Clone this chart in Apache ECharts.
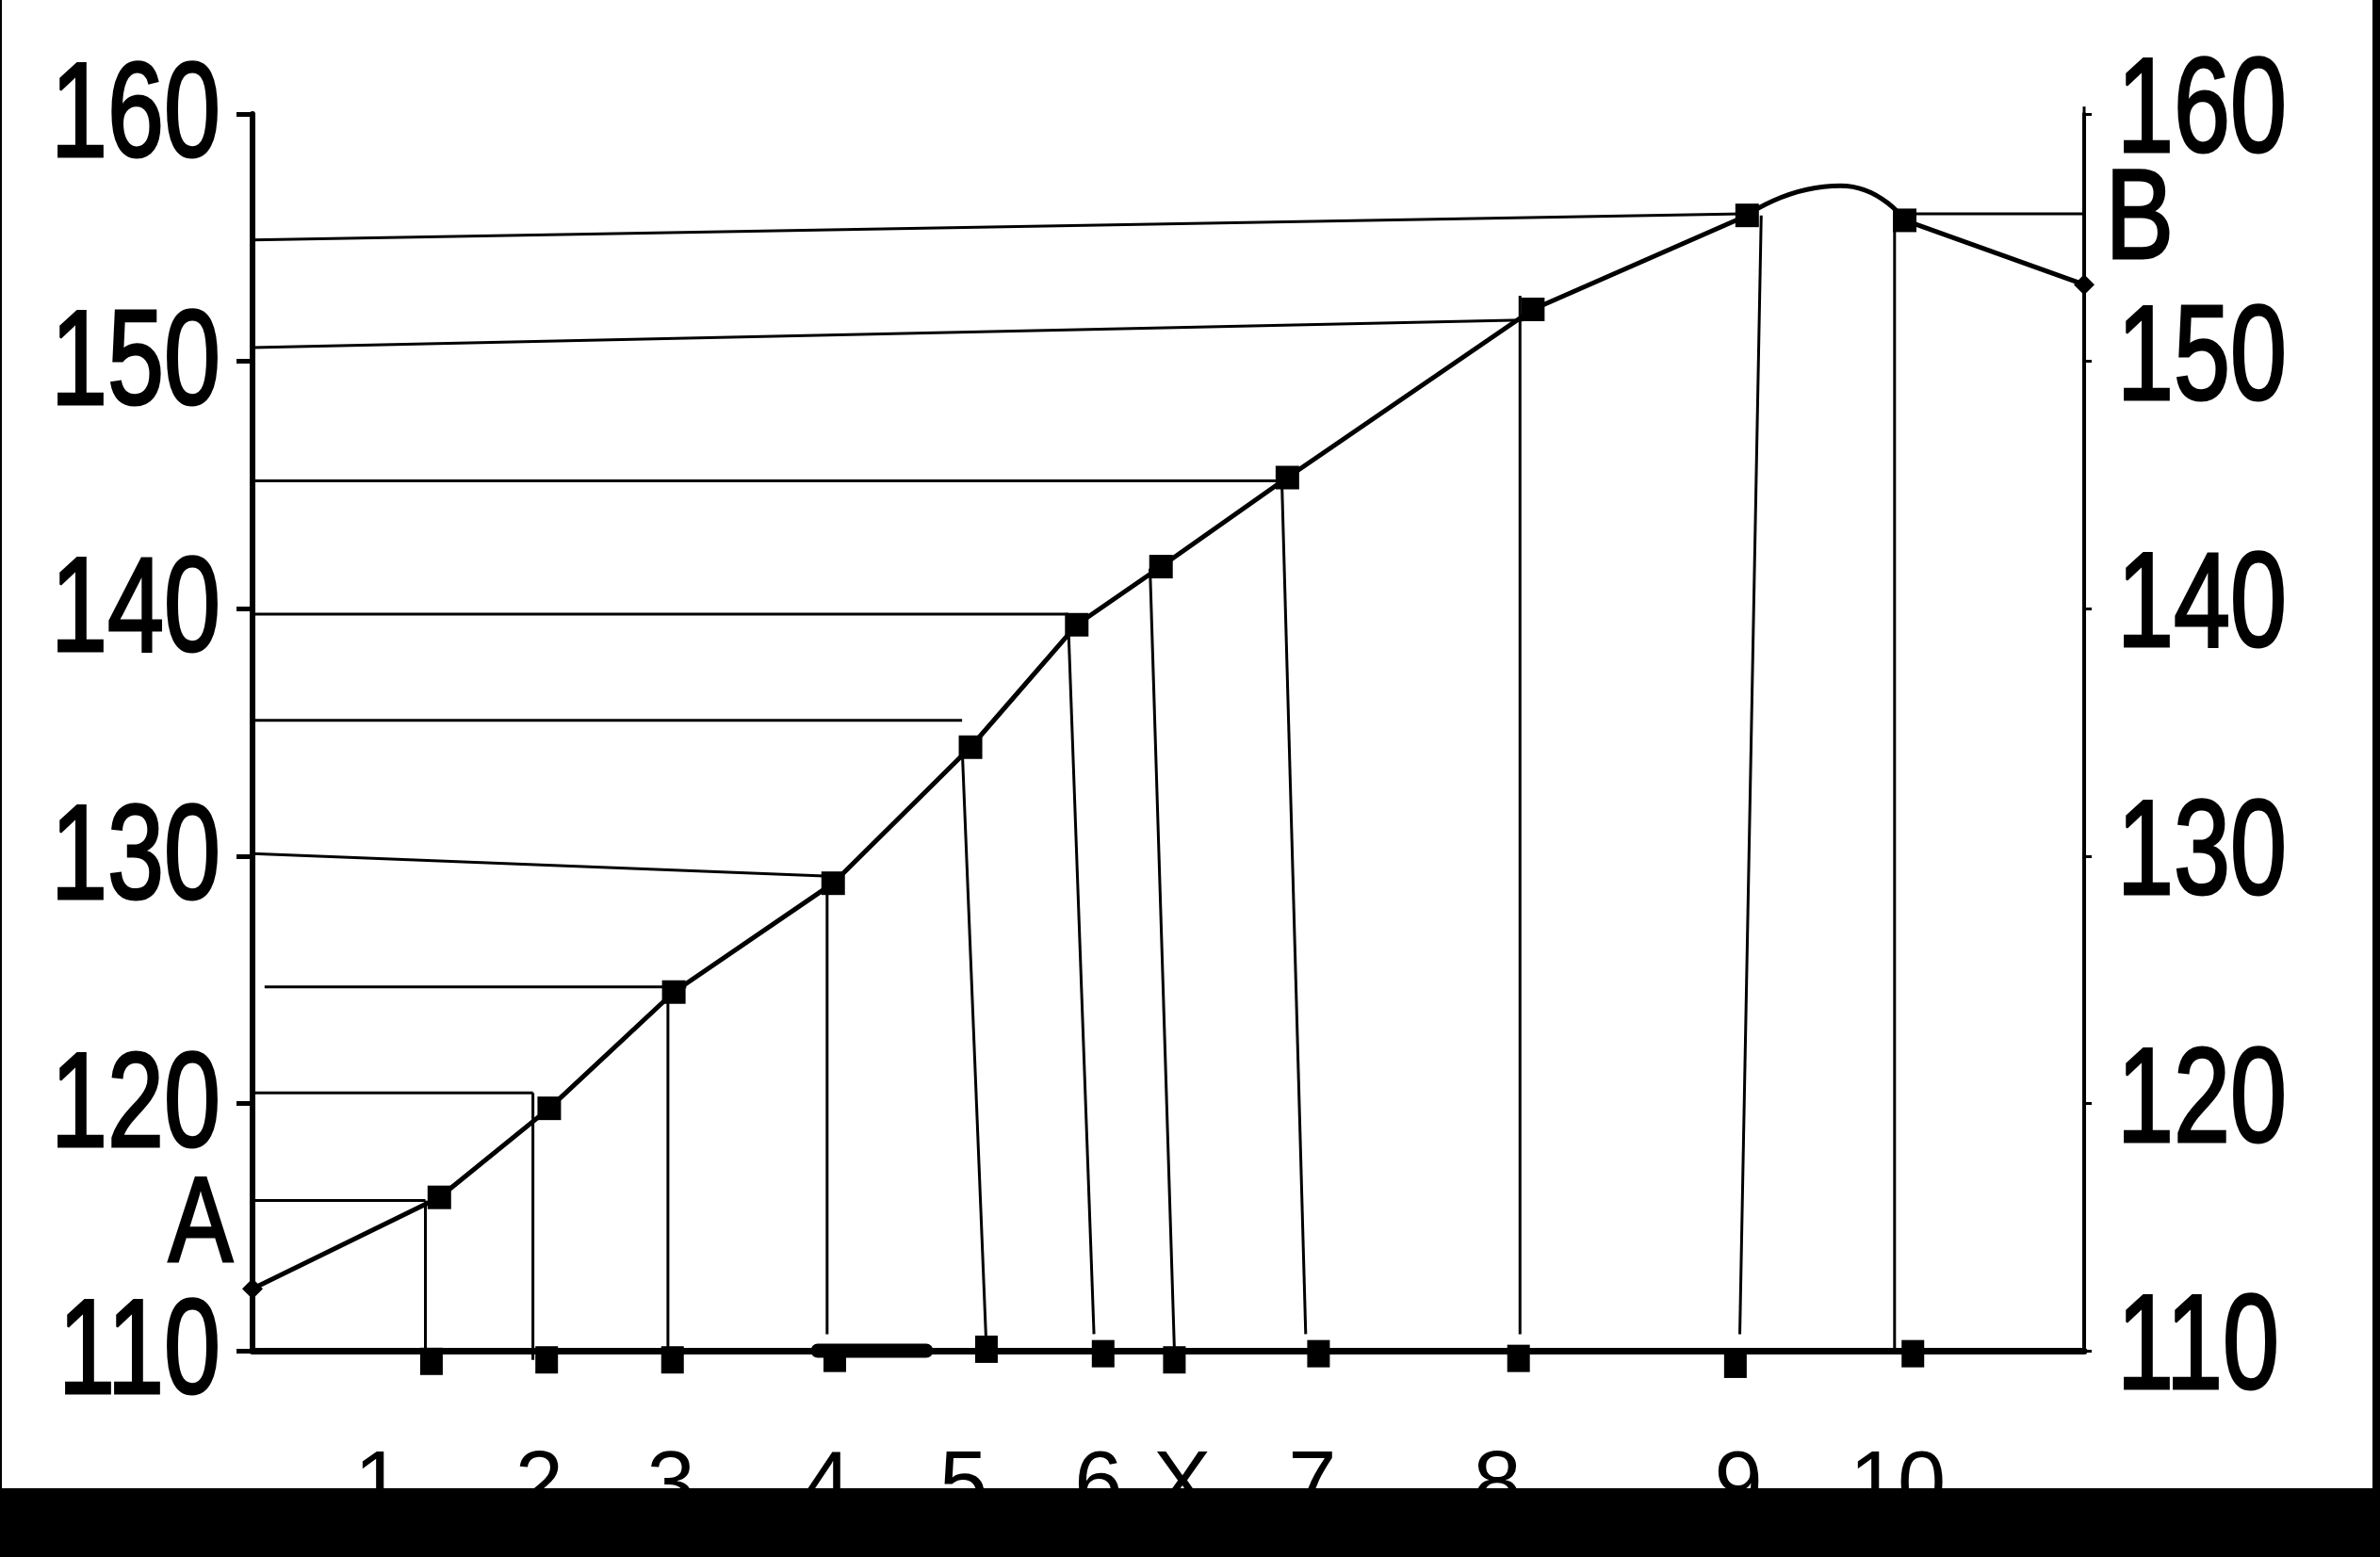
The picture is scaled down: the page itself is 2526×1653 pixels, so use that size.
<!DOCTYPE html>
<html>
<head>
<meta charset="utf-8">
<script src="https://cdn.jsdelivr.net/npm/echarts@6/dist/echarts.min.js"></script>
<style>
html,body{margin:0;padding:0;background:#fff;}
#chart{width:2526px;height:1653px;}
</style>
</head>
<body>
<div id="chart"></div>
<script>
// ---- data (x in relative units 0..100 between the two axes, y in axis units) ----
const yTicks = [110, 120, 130, 140, 150, 160];

// main polyline A -> 9
const curveX = [0, 10.2, 16.2, 23.0, 31.7, 39.2, 45.0, 49.6, 56.5, 69.9, 81.6];
const curveY = [112.5, 116.2, 119.8, 124.5, 128.9, 134.4, 139.35, 141.7, 145.3, 152.1, 155.9];
// rounded hump 9 -> 10
const humpX = [81.6, 86.7, 90.2];
const humpY = [155.9, 157.1, 155.7];
// 10 -> B
const tailX = [90.2, 100];
const tailY = [155.7, 153.1];

// square markers on the curve (1..6, X, 7..10)
const curveMarkX = [10.2, 16.2, 23.0, 31.7, 39.2, 45.0, 49.6, 56.5, 69.9, 81.6, 90.2];
const curveMarkY = [116.2, 119.8, 124.5, 128.9, 134.4, 139.35, 141.7, 145.3, 152.1, 155.9, 155.7];

// square markers along the baseline
const baseMarkX = [9.77, 16.06, 22.93, 31.79, 40.07, 46.44, 50.33, 58.2, 69.12, 80.96, 90.65];
const baseMarkY = [109.57, 109.63, 109.63, 109.69, 110.06, 109.88, 109.63, 109.88, 109.69, 109.45, 109.88];

// end points A and B
const endX = [0, 100];
const endY = [112.5, 153.1];

// horizontal guide lines [x1, y1, x2, y2]
const hLines = [
  [-0.3, 116.07, 9.44, 116.07],
  [0, 120.42, 15.31, 120.42],
  [0.66, 124.71, 23.68, 124.71],
  [0, 130.10, 31.54, 129.18],
  [-0.58, 135.49, 38.74, 135.49],
  [0, 139.78, 44.54, 139.78],
  [-0.17, 145.17, 56.13, 145.17],
  [0, 150.56, 69.37, 151.67],
  [0, 154.91, 81.37, 155.96],
  [90.15, 155.96, 100, 155.96]
];
// vertical guide lines [x1, y1, x2, y2]
const vLines = [
  [9.44, 116.07, 9.44, 109.63],
  [15.31, 120.42, 15.31, 109.63],
  [22.68, 124.46, 22.68, 109.63],
  [31.37, 128.93, 31.37, 110.67],
  [38.74, 134.45, 40.07, 110.06],
  [44.54, 139.35, 45.94, 110.67],
  [49.0, 141.62, 50.33, 110.06],
  [56.2, 145.1, 57.5, 110.67],
  [69.2, 152.65, 69.2, 110.67],
  [82.37, 155.9, 81.2, 110.67],
  [89.65, 155.7, 89.65, 110.06],
  [100, 160, 100, 160.3]
];
// short thick bar on the baseline right of "4"
const thickBar = [30.86, 110, 36.78, 110];

// bottom labels
const xLabels = ['1', '2', '3', '4', '5', '6', 'X', '7', '8', '9', '10'];
const xLabelPos = [6.87, 15.65, 22.85, 31.37, 38.82, 46.19, 50.75, 57.86, 67.96, 81.13, 89.82];
const xLabelY = 104.45;

// letter labels A and B
const letterText = ['A', 'B'];
const letterX = [-2.83, 103.03];
const letterY = [114.98, 155.6];

// ---- chart ----
const SANS = "'Liberation Sans', Arial, sans-serif";
const NARROW_SCALE = 0.76;
const zip = (xs, ys) => xs.map((x, i) => [x, ys[i]]);

const segSeries = hLines.concat(vLines).map(s => ({
  type: 'line', clip: false, silent: true, symbol: 'none', animation: false,
  lineStyle: { color: '#000', width: 3 },
  data: [[s[0], s[1]], [s[2], s[3]]], z: 3
}));

const sq = { color: '#000', opacity: 1 };

const option = {
  backgroundColor: '#fff',
  animation: false,
  grid: { left: 268, right: 314, top: 121, bottom: 219 },
  xAxis: {
    type: 'value', min: 0, max: 100,
    axisLine: { show: true, onZero: false, lineStyle: { color: '#000', width: 7 } },
    axisTick: { show: false }, axisLabel: { show: false }, splitLine: { show: false }
  },
  yAxis: [
    {
      type: 'value', position: 'left', min: 110, max: 160, interval: 10,
      axisLine: { show: true, lineStyle: { color: '#000', width: 6 } },
      axisTick: { show: true, inside: false, length: 17, lineStyle: { color: '#000', width: 5 } },
      axisLabel: { show: false },
      splitLine: { show: false }
    },
    {
      type: 'value', position: 'right', min: 110, max: 160, interval: 10,
      axisLine: { show: true, lineStyle: { color: '#000', width: 4 } },
      axisTick: { show: true, inside: false, length: 8, lineStyle: { color: '#000', width: 3 } },
      axisLabel: { show: false },
      splitLine: { show: false }
    }
  ],
  series: segSeries.concat([
    {
      type: 'line', clip: false, silent: true, symbol: 'none',
      lineStyle: { color: '#000', width: 15, cap: 'round' },
      data: [[thickBar[0], thickBar[1]], [thickBar[2], thickBar[3]]], z: 4
    },
    {
      type: 'line', clip: false, symbol: 'none',
      lineStyle: { color: '#000', width: 5 }, data: zip(curveX, curveY), z: 5
    },
    {
      type: 'line', clip: false, symbol: 'none', smooth: 0.6,
      lineStyle: { color: '#000', width: 5 }, data: zip(humpX, humpY), z: 5
    },
    {
      type: 'line', clip: false, symbol: 'none',
      lineStyle: { color: '#000', width: 5 }, data: zip(tailX, tailY), z: 5
    },
    {
      type: 'scatter', clip: false, symbol: 'rect', symbolSize: 25,
      itemStyle: sq, data: zip(curveMarkX, curveMarkY), z: 6
    },
    {
      type: 'scatter', clip: false, symbol: 'rect', symbolSize: [24, 29],
      itemStyle: sq, data: zip(baseMarkX, baseMarkY), z: 6
    },
    {
      type: 'scatter', clip: false, symbol: 'diamond', symbolSize: 22,
      itemStyle: sq, data: zip(endX, endY), z: 6
    }
  ])
};

const chart = echarts.init(document.getElementById('chart'), null, { renderer: 'canvas' });
chart.setOption(option);

// ---- texts placed through the chart's own scales ----
const px = (x, y) => chart.convertToPixel({ gridIndex: 0 }, [x, y]);
const texts = [];
const leftAxisX = px(0, 110)[0];
const rightAxisX = px(100, 110)[0];
const bigStyle = { fill: '#000', stroke: '#000', lineWidth: 3, fontFamily: SANS, verticalAlign: 'middle' };
yTicks.forEach(t => {
  const y = px(0, t)[1];
  texts.push({ type: 'text', x: leftAxisX - 34, y: y + 6, scaleX: NARROW_SCALE, z: 10,
    style: Object.assign({ text: String(t), fontSize: 142, align: 'right' }, bigStyle) });
  texts.push({ type: 'text', x: rightAxisX + 35, y: y + 1, scaleX: NARROW_SCALE, z: 10,
    style: Object.assign({ text: String(t), fontSize: 142, align: 'left' }, bigStyle) });
});
letterText.forEach((t, i) => {
  const p = px(letterX[i], letterY[i]);
  texts.push({ type: 'text', x: p[0], y: p[1], scaleX: 0.8, z: 10,
    style: Object.assign({ text: t, fontSize: i === 0 ? 128 : 136, align: 'center' }, bigStyle) });
});
xLabels.forEach((t, i) => {
  const p = px(xLabelPos[i], xLabelY);
  texts.push({ type: 'text', x: p[0], y: p[1], z: 10,
    style: { text: t, fill: '#000', fontSize: 92, fontFamily: SANS, align: 'center', verticalAlign: 'middle' } });
});
const frames = [
  { type: 'rect', z: 100, shape: { x: 0, y: 1580, width: 2526, height: 73 }, style: { fill: '#000' } },
  { type: 'rect', z: 100, shape: { x: 2518, y: 0, width: 8, height: 1653 }, style: { fill: '#000' } },
  { type: 'rect', z: 100, shape: { x: 0, y: 0, width: 2, height: 1653 }, style: { fill: '#000' } }
];
chart.setOption({ graphic: texts.concat(frames) });
</script>
</body>
</html>
